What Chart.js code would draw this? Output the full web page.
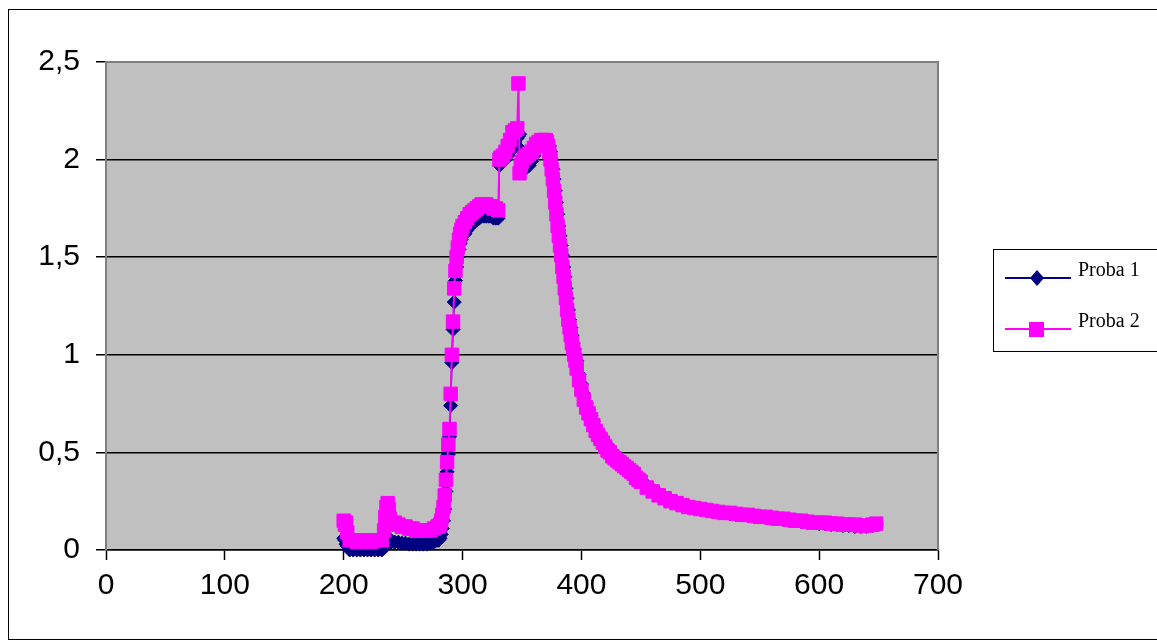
<!DOCTYPE html>
<html>
<head>
<meta charset="utf-8">
<script src="https://cdn.jsdelivr.net/npm/chart.js@4.4.1/dist/chart.umd.min.js"></script>
<style>
  html, body { margin: 0; padding: 0; background: #fff; }
  #wrap { position: relative; width: 1157px; height: 644px; }
</style>
</head>
<body>
<div id="wrap"><canvas id="chart" width="1157" height="644"></canvas></div>
<script>
const seriesNames = ['Proba 1', 'Proba 2'];

// x values (nm) shared by both series
const wavelengths = [
  200, 201, 202, 203, 205, 208, 211, 214, 217, 220, 223, 226, 229, 232, 234, 235, 236, 237, 238, 239,
  240, 243, 246, 249, 252, 255, 258, 261, 264, 267, 270, 273, 276, 279,
  280, 281, 282, 283, 284, 285, 286, 287, 288, 289, 290, 291, 292, 293, 294, 295, 296, 297, 298, 299, 300,
  302, 304, 306, 308, 310, 312, 314, 316, 318, 320, 322, 324, 326, 328, 330,
  331, 332, 334, 336, 338, 340, 342, 344, 346, 347, 348, 349, 350, 352, 354, 356, 358, 360, 362, 364,
  366, 368, 370, 371, 372,
  373, 374, 375, 376, 377, 378, 379, 380, 381, 382, 383, 384, 385, 386, 387, 388, 389, 390, 391, 392,
  393, 394, 395, 396,
  398, 400, 402, 404, 406, 408, 410, 412, 414, 416, 418, 420, 422, 424, 426, 428, 430, 432, 434, 436,
  438, 440, 442, 444, 446, 448, 450,
  455, 460, 465, 470, 475, 480, 485, 490, 495, 500, 505, 510, 515, 520, 525, 530, 535, 540, 545, 550,
  555, 560, 565, 570, 575, 580, 585, 590, 595, 600, 605, 610, 615, 620, 625, 630, 635, 640, 645, 648
];

const proba1 = [
  0.06, 0.05, 0.03, 0.02, 0.00, 0.00, 0.00, 0.00, 0.00, 0.00, 0.00, 0.00, 0.00, 0.00, 0.01, 0.02, 0.04, 0.06, 0.06, 0.05,
  0.04, 0.04, 0.04, 0.035, 0.035, 0.03, 0.03, 0.03, 0.03, 0.03, 0.03, 0.035, 0.04, 0.05,
  0.05, 0.06, 0.08, 0.11, 0.15, 0.21, 0.30, 0.40, 0.49, 0.58, 0.74, 0.96, 1.13, 1.27, 1.38, 1.45, 1.50, 1.54, 1.57, 1.59, 1.61,
  1.62, 1.64, 1.66, 1.67, 1.68, 1.69, 1.70, 1.71, 1.71, 1.71, 1.71, 1.71, 1.70, 1.70, 1.70,
  1.97, 1.98, 1.99, 2.00, 2.02, 2.04, 2.07, 2.09, 2.11, 2.12, 2.13, 2.05, 1.97, 1.95, 1.96, 1.97, 1.99, 2.02, 2.05, 2.07,
  2.09, 2.10, 2.10, 2.10, 2.09,
  2.07, 2.04, 2.00, 1.95, 1.90, 1.84, 1.78, 1.72, 1.66, 1.61, 1.56, 1.51, 1.45, 1.40, 1.34, 1.29, 1.23, 1.18, 1.14, 1.10,
  1.06, 1.03, 1.00, 0.97,
  0.90, 0.85, 0.80, 0.75, 0.72, 0.69, 0.66, 0.63, 0.61, 0.59, 0.57, 0.55, 0.53, 0.51, 0.49, 0.48, 0.47, 0.46, 0.45, 0.44,
  0.43, 0.42, 0.41, 0.40, 0.38, 0.37, 0.36,
  0.33, 0.31, 0.29, 0.27, 0.255, 0.24, 0.23, 0.22, 0.215, 0.21, 0.205, 0.20, 0.195, 0.19, 0.185, 0.18, 0.18, 0.175, 0.17, 0.17,
  0.165, 0.16, 0.16, 0.155, 0.15, 0.15, 0.145, 0.14, 0.14, 0.135, 0.135, 0.13, 0.13, 0.125, 0.125, 0.12, 0.12, 0.12, 0.125, 0.13
];

const proba2 = [
  0.15, 0.13, 0.14, 0.09, 0.05, 0.05, 0.04, 0.05, 0.05, 0.05, 0.04, 0.05, 0.05, 0.05, 0.10, 0.17, 0.22, 0.24, 0.21, 0.16,
  0.14, 0.14, 0.13, 0.12, 0.12, 0.11, 0.11, 0.10, 0.10, 0.10, 0.10, 0.10, 0.11, 0.12,
  0.12, 0.13, 0.15, 0.18, 0.22, 0.28, 0.36, 0.45, 0.54, 0.62, 0.80, 1.00, 1.17, 1.34, 1.43, 1.50, 1.55, 1.59, 1.62, 1.64, 1.66,
  1.68, 1.70, 1.72, 1.73, 1.74, 1.75, 1.76, 1.77, 1.77, 1.77, 1.76, 1.76, 1.75, 1.75, 1.74,
  2.00, 2.01, 2.02, 2.04, 2.07, 2.10, 2.14, 2.15, 2.16, 2.39, 1.93, 1.97, 1.99, 2.01, 2.02, 2.03, 2.04, 2.06, 2.08, 2.09,
  2.10, 2.10, 2.10, 2.09, 2.07,
  2.04, 2.00, 1.95, 1.90, 1.84, 1.78, 1.72, 1.66, 1.61, 1.56, 1.51, 1.45, 1.40, 1.34, 1.29, 1.23, 1.18, 1.14, 1.10, 1.06,
  1.03, 1.00, 0.97, 0.93,
  0.87, 0.82, 0.77, 0.73, 0.70, 0.67, 0.64, 0.61, 0.59, 0.57, 0.55, 0.53, 0.51, 0.50, 0.48, 0.47, 0.46, 0.45, 0.44, 0.43,
  0.42, 0.41, 0.40, 0.39, 0.37, 0.36, 0.35,
  0.32, 0.30, 0.28, 0.265, 0.25, 0.24, 0.23, 0.22, 0.215, 0.21, 0.205, 0.20, 0.195, 0.19, 0.19, 0.185, 0.18, 0.18, 0.175, 0.17,
  0.17, 0.165, 0.16, 0.16, 0.155, 0.15, 0.15, 0.145, 0.14, 0.14, 0.14, 0.135, 0.135, 0.13, 0.13, 0.13, 0.125, 0.125, 0.13, 0.135
];

const NAVY = '#000080';
const MAGENTA = '#FF00FF';
const tickFont = { family: '"Liberation Sans", Arial, sans-serif', size: 30 };

// grey plot background, grey frame, outer border and the boxed legend
const excelFrame = {
  id: 'excelFrame',
  beforeDraw(chart) {
    const { ctx, chartArea: a } = chart;
    ctx.save();
    ctx.fillStyle = '#C0C0C0';
    ctx.fillRect(a.left, a.top, a.right - a.left, a.bottom - a.top);
    ctx.restore();
  },
  beforeDatasetsDraw(chart) {
    const { ctx, chartArea: a } = chart;
    ctx.save();
    ctx.strokeStyle = '#808080';
    ctx.lineWidth = 2;
    ctx.beginPath();
    ctx.moveTo(a.left, a.top);
    ctx.lineTo(a.right, a.top);
    ctx.lineTo(a.right, a.bottom);
    ctx.stroke();
    ctx.restore();
  },
  afterDraw(chart) {
    const ctx = chart.ctx;
    ctx.save();
    ctx.strokeStyle = '#000';
    ctx.lineWidth = 1;
    ctx.strokeRect(8.5, 9.5, 1160, 630);
    ctx.strokeRect(993.5, 249.5, 220, 102);

    ctx.font = '20px "Liberation Serif", "Times New Roman", serif';
    ctx.fillStyle = '#000';
    ctx.textBaseline = 'alphabetic';
    ctx.fillText(seriesNames[0], 1078, 276);
    ctx.fillText(seriesNames[1], 1078, 327);

    // Proba 1 key
    ctx.strokeStyle = NAVY;
    ctx.lineWidth = 2;
    ctx.beginPath();
    ctx.moveTo(1005, 278); ctx.lineTo(1071, 278);
    ctx.stroke();
    ctx.fillStyle = NAVY;
    ctx.beginPath();
    ctx.moveTo(1037, 270); ctx.lineTo(1044, 278); ctx.lineTo(1037, 286); ctx.lineTo(1030, 278);
    ctx.closePath();
    ctx.fill();

    // Proba 2 key
    ctx.strokeStyle = MAGENTA;
    ctx.beginPath();
    ctx.moveTo(1005, 329); ctx.lineTo(1071, 329);
    ctx.stroke();
    ctx.fillStyle = MAGENTA;
    ctx.fillRect(1029, 322, 15, 15);
    ctx.restore();
  }
};

new Chart(document.getElementById('chart'), {
  type: 'line',
  data: {
    datasets: [
      {
        label: seriesNames[0],
        data: wavelengths.map((x, i) => ({ x, y: proba1[i] })),
        borderColor: NAVY,
        backgroundColor: NAVY,
        borderWidth: 1.5,
        pointStyle: 'rectRot',
        pointRadius: 7,
        pointBorderWidth: 1,
        pointBackgroundColor: NAVY,
        pointBorderColor: NAVY,
        tension: 0,
        clip: false,
        order: 2
      },
      {
        label: seriesNames[1],
        data: wavelengths.map((x, i) => ({ x, y: proba2[i] })),
        borderColor: MAGENTA,
        backgroundColor: MAGENTA,
        borderWidth: 2,
        pointStyle: 'rect',
        pointRadius: 9.5,
        pointBorderWidth: 1,
        pointBackgroundColor: MAGENTA,
        pointBorderColor: MAGENTA,
        tension: 0,
        clip: false,
        order: 1
      }
    ]
  },
  options: {
    responsive: false,
    animation: false,
    layout: { padding: { top: 62, right: 219, bottom: 0, left: 0 } },
    plugins: { legend: { display: false }, tooltip: { enabled: false } },
    scales: {
      x: {
        type: 'linear',
        min: 0,
        max: 700,
        afterFit: (s) => { s.height = 94; },
        ticks: { stepSize: 100, autoSkip: false, maxRotation: 0, padding: 8, color: '#000', font: tickFont },
        grid: { drawOnChartArea: false, drawTicks: true, tickLength: 10, tickColor: '#000', tickWidth: 1.5 },
        border: { color: '#000', width: 1.5 }
      },
      y: {
        min: 0,
        max: 2.5,
        afterFit: (s) => { s.width = 106; },
        ticks: {
          stepSize: 0.5,
          padding: 16,
          color: '#000',
          font: tickFont,
          callback: (v) => String(v).replace('.', ',')
        },
        grid: {
          color: (c) => (c.tick && c.tick.value === 2.5 ? 'rgba(0,0,0,0)' : '#000'),
          lineWidth: 1.5,
          tickLength: 10,
          tickColor: '#000',
          tickWidth: 1.5
        },
        border: { color: '#808080', width: 2 }
      }
    }
  },
  plugins: [excelFrame]
});
</script>
</body>
</html>
